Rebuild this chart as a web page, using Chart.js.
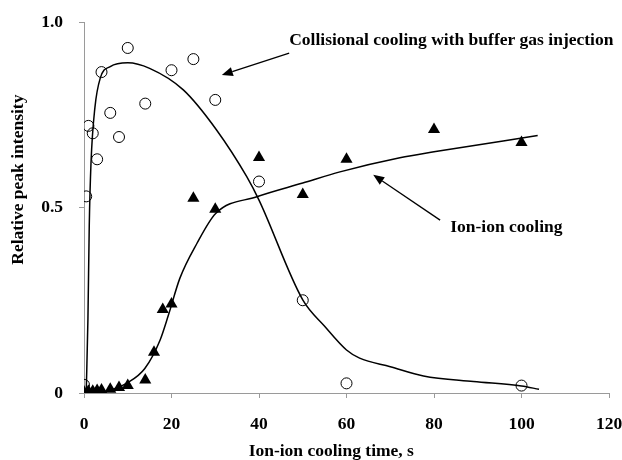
<!DOCTYPE html>
<html>
<head>
<meta charset="utf-8">
<script src="https://cdn.jsdelivr.net/npm/chart.js@4.4.1/dist/chart.umd.min.js"></script>
<style>
  body { margin: 0; background: #fff; }
  #wrap { width: 622px; height: 460px; }
</style>
</head>
<body>
<div id="wrap"><canvas id="grafico"></canvas></div>
<script>
// datos medidos (circulos: enfriamiento colisional, triangulos: ion-ion)
const collTime = [0, 0.5, 1, 2, 3, 4, 6, 8, 10, 14, 20, 25, 30, 40, 50, 60, 100];
const collPeak = [0.022, 0.53, 0.72, 0.70, 0.63, 0.865, 0.755, 0.69, 0.93, 0.78, 0.87, 0.90, 0.79, 0.57, 0.25, 0.026, 0.02];

const ionTime = [0, 1, 2, 3, 4, 6, 8, 10, 14, 16, 18, 20, 25, 30, 40, 50, 60, 80, 100];
const ionPeak = [0.003, 0.005, 0.005, 0.007, 0.008, 0.01, 0.015, 0.02, 0.035, 0.11, 0.225, 0.24, 0.525, 0.495, 0.635, 0.535, 0.63, 0.71, 0.675];

// curvas de ajuste
const collFitTime = [0.5, 0.9, 1.2, 1.6, 2.5, 3.7, 6, 10, 15, 22.7, 30.3, 37.2, 40, 50, 55, 60, 63, 70, 77.6, 89, 100, 104];
const collFitPeak = [0, 0.2, 0.45, 0.62, 0.77, 0.848, 0.88, 0.89, 0.875, 0.817, 0.709, 0.583, 0.52, 0.251, 0.18, 0.116, 0.094, 0.071, 0.046, 0.031, 0.019, 0.01];

const ionFitTime = [0, 5, 10, 13.9, 17.4, 19.3, 21.9, 25.8, 30.1, 39.5, 50, 58.5, 72.2, 80, 103.7];
const ionFitPeak = [0, 0.005, 0.028, 0.066, 0.143, 0.21, 0.309, 0.403, 0.484, 0.529, 0.566, 0.596, 0.634, 0.65, 0.694];

const xTicks = [0, 20, 40, 60, 80, 100, 120];
const yTicks = [0, 0.5, 1.0];
const yTickLabels = ['0', '0.5', '1.0'];

const xTitle = 'Ion-ion cooling time, s';
const yTitle = 'Relative peak intensity';

// etiquetas con flecha (coordenadas en unidades de datos)
const labelText = ['Collisional cooling with buffer gas injection', 'Ion-ion cooling'];
const labelPos = [[46.9, 0.951], [83.7, 0.445]];
const arrowFrom = [[46.9, 0.916], [81.4, 0.466]];
const arrowTo = [[31.5, 0.857], [66.1, 0.588]];

const fuente = "'Liberation Serif', 'Times New Roman', serif";
const gris = '#9a9a9a';

const toXY = (xs, ys) => xs.map((x, i) => ({ x: x, y: ys[i] }));

const anotaciones = {
    id: 'anotaciones',
    afterDatasetsDraw(chart) {
        const ctx = chart.ctx;
        const sx = chart.scales.x, sy = chart.scales.y;
        const area = chart.chartArea;
        ctx.save();
        ctx.strokeStyle = '#000';
        ctx.fillStyle = '#000';
        ctx.lineWidth = 1.3;
        arrowFrom.forEach((p, i) => {
            const x1 = sx.getPixelForValue(p[0]), y1 = sy.getPixelForValue(p[1]);
            const x2 = sx.getPixelForValue(arrowTo[i][0]), y2 = sy.getPixelForValue(arrowTo[i][1]);
            const ang = Math.atan2(y2 - y1, x2 - x1);
            const len = 11, half = 4.5;
            const bx = x2 - len * Math.cos(ang), by = y2 - len * Math.sin(ang);
            ctx.beginPath();
            ctx.moveTo(x1, y1);
            ctx.lineTo(bx, by);
            ctx.stroke();
            ctx.beginPath();
            ctx.moveTo(x2, y2);
            ctx.lineTo(bx + half * Math.sin(ang), by - half * Math.cos(ang));
            ctx.lineTo(bx - half * Math.sin(ang), by + half * Math.cos(ang));
            ctx.closePath();
            ctx.fill();
        });
        ctx.font = 'bold 17.5px ' + fuente;
        ctx.textAlign = 'left';
        ctx.textBaseline = 'middle';
        labelText.forEach((t, i) => {
            ctx.fillText(t, sx.getPixelForValue(labelPos[i][0]), sy.getPixelForValue(labelPos[i][1]));
        });

        // titulos de los ejes
        ctx.textAlign = 'center';
        ctx.fillText(xTitle, area.left + (area.right - area.left) * 0.471, area.bottom + 58);
        ctx.translate(18, area.top + (area.bottom - area.top) * 0.425);
        ctx.rotate(-Math.PI / 2);
        ctx.fillText(yTitle, 0, 0);
        ctx.restore();
    }
};

const ctx = document.getElementById('grafico').getContext('2d');

const miGrafico = new Chart(ctx, {
    type: 'scatter',
    data: {
        datasets: [
            {
                label: 'Collisional fit',
                type: 'line',
                data: toXY(collFitTime, collFitPeak),
                borderColor: '#000',
                borderWidth: 1.5,
                pointRadius: 0,
                cubicInterpolationMode: 'monotone',
                fill: false
            },
            {
                label: 'Ion-ion fit',
                type: 'line',
                data: toXY(ionFitTime, ionFitPeak),
                borderColor: '#000',
                borderWidth: 1.5,
                pointRadius: 0,
                cubicInterpolationMode: 'monotone',
                fill: false
            },
            {
                label: 'Collisional cooling',
                data: toXY(collTime, collPeak),
                pointStyle: 'circle',
                pointRadius: 5.5,
                borderColor: '#000',
                borderWidth: 1,
                backgroundColor: 'rgba(0,0,0,0)'
            },
            {
                label: 'Ion-ion cooling',
                data: toXY(ionTime, ionPeak),
                pointStyle: 'triangle',
                pointRadius: 7,
                borderColor: '#000',
                borderWidth: 0,
                backgroundColor: '#000'
            }
        ]
    },
    options: {
        responsive: true,
        maintainAspectRatio: false,
        animation: false,
        layout: { padding: { top: 22, right: 13, left: 0, bottom: 0 } },
        plugins: {
            legend: { display: false },
            tooltip: { enabled: false }
        },
        scales: {
            x: {
                type: 'linear',
                min: 0,
                max: 120,
                afterBuildTicks: s => { s.ticks = xTicks.map(v => ({ value: v })); },
                afterFit: s => { s.height = 67; s.paddingLeft = 0; s.paddingRight = 0; },
                grid: { drawOnChartArea: false, drawTicks: true, tickLength: 5, color: gris },
                border: { display: true, color: gris, width: 1 },
                ticks: {
                    color: '#000',
                    padding: 16,
                    maxRotation: 0,
                    font: { family: fuente, size: 17.5, weight: 'bold' }
                }
            },
            y: {
                type: 'linear',
                min: 0,
                max: 1,
                afterBuildTicks: s => { s.ticks = yTicks.map(v => ({ value: v })); },
                afterFit: s => { s.width = 84; s.paddingTop = 0; s.paddingBottom = 0; },
                grid: { drawOnChartArea: false, drawTicks: true, tickLength: 5, color: gris },
                border: { display: true, color: gris, width: 1 },
                ticks: {
                    color: '#000',
                    padding: 16,
                    callback: (v, i) => yTickLabels[i],
                    font: { family: fuente, size: 17.5, weight: 'bold' }
                }
            }
        }
    },
    plugins: [anotaciones]
});
</script>
</body>
</html>
